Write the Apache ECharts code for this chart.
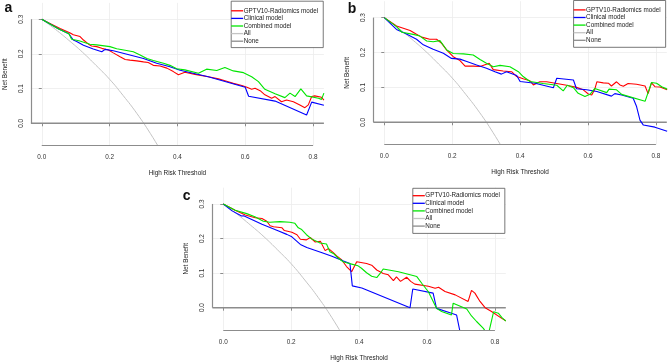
<!DOCTYPE html>
<html>
<head>
<meta charset="utf-8">
<script src="https://cdn.jsdelivr.net/npm/echarts@6/dist/echarts.min.js"></script>
<style>
  html, body { margin: 0; padding: 0; background: #fff; }
  #chart { width: 669px; height: 363px; }
</style>
</head>
<body>
<div id="chart"></div>
<script>
// tick labels
const xTicks = [0, 0.2, 0.4, 0.6, 0.8];
const yTicks = [0, 0.1, 0.2, 0.3];
const seriesNames = ['GPTV10-Radiomics model', 'Clinical model', 'Combined model', 'All', 'None'];

// treat-all curve (same in every panel) and treat-none line
const allCurve = [[0, 0.300], [0.04, 0.271], [0.08, 0.239], [0.12, 0.205], [0.16, 0.167], [0.20, 0.127],
    [0.24, 0.080], [0.28, 0.029], [0.32, -0.029], [0.36, -0.094]];
const noneLine = [[-0.032, 0], [0.832, 0]];

// panel a
const aRadiomics = [[0, 0.300], [0.030, 0.285], [0.054, 0.273], [0.084, 0.260], [0.093, 0.255], [0.113, 0.250],
    [0.123, 0.240], [0.138, 0.228], [0.147, 0.223], [0.162, 0.221], [0.177, 0.216], [0.197, 0.211], [0.211, 0.203],
    [0.231, 0.192], [0.246, 0.184], [0.260, 0.182], [0.280, 0.180], [0.300, 0.177], [0.314, 0.175], [0.329, 0.167],
    [0.349, 0.165], [0.369, 0.159], [0.388, 0.149], [0.403, 0.140], [0.422, 0.147], [0.452, 0.141], [0.491, 0.134],
    [0.521, 0.128], [0.550, 0.120], [0.565, 0.115], [0.590, 0.109], [0.605, 0.104], [0.619, 0.098], [0.629, 0.101],
    [0.644, 0.094], [0.658, 0.082], [0.678, 0.072], [0.688, 0.077], [0.707, 0.062], [0.722, 0.067], [0.742, 0.062],
    [0.761, 0.053], [0.776, 0.045], [0.786, 0.053], [0.796, 0.077], [0.805, 0.079], [0.825, 0.075], [0.832, 0.067]];
const aClinical = [[0, 0.300], [0.050, 0.272], [0.080, 0.258], [0.093, 0.240], [0.103, 0.236], [0.123, 0.225],
    [0.152, 0.214], [0.177, 0.206], [0.187, 0.213], [0.211, 0.209], [0.260, 0.197], [0.300, 0.187], [0.339, 0.173],
    [0.378, 0.163], [0.408, 0.153], [0.491, 0.134], [0.600, 0.104], [0.610, 0.078], [0.688, 0.064], [0.781, 0.024],
    [0.796, 0.061], [0.832, 0.052]];
const aCombined = [[0, 0.300], [0.050, 0.272], [0.080, 0.258], [0.088, 0.242], [0.110, 0.238], [0.142, 0.228],
    [0.162, 0.226], [0.201, 0.221], [0.221, 0.215], [0.250, 0.210], [0.270, 0.206], [0.290, 0.197], [0.310, 0.187],
    [0.329, 0.181], [0.359, 0.173], [0.378, 0.167], [0.398, 0.157], [0.422, 0.154], [0.462, 0.144], [0.486, 0.156],
    [0.516, 0.152], [0.540, 0.161], [0.565, 0.151], [0.595, 0.146], [0.619, 0.134], [0.639, 0.120], [0.658, 0.098],
    [0.688, 0.085], [0.717, 0.074], [0.732, 0.087], [0.747, 0.077], [0.764, 0.099], [0.781, 0.079], [0.816, 0.072],
    [0.825, 0.069], [0.832, 0.087]];

// panel b
const bRadiomics = [[0, 0.300], [0.036, 0.276], [0.076, 0.263], [0.095, 0.252], [0.110, 0.244], [0.134, 0.238],
    [0.154, 0.238], [0.169, 0.226], [0.184, 0.207], [0.203, 0.188], [0.223, 0.177], [0.238, 0.161], [0.262, 0.161],
    [0.282, 0.160], [0.301, 0.166], [0.309, 0.169], [0.321, 0.151], [0.350, 0.147], [0.375, 0.145], [0.390, 0.131],
    [0.409, 0.125], [0.429, 0.119], [0.439, 0.107], [0.458, 0.116], [0.478, 0.116], [0.508, 0.111], [0.537, 0.106],
    [0.566, 0.100], [0.586, 0.093], [0.601, 0.081], [0.611, 0.078], [0.620, 0.095], [0.626, 0.116], [0.645, 0.113],
    [0.660, 0.112], [0.669, 0.104], [0.684, 0.116], [0.694, 0.107], [0.704, 0.103], [0.718, 0.111], [0.743, 0.109],
    [0.768, 0.104], [0.777, 0.082], [0.787, 0.113], [0.797, 0.102], [0.812, 0.101], [0.833, 0.093]];
const bClinical = [[0, 0.300], [0.036, 0.266], [0.061, 0.255], [0.095, 0.238], [0.115, 0.222], [0.144, 0.209],
    [0.174, 0.198], [0.198, 0.183], [0.223, 0.181], [0.243, 0.174], [0.272, 0.164], [0.301, 0.155], [0.326, 0.145],
    [0.345, 0.138], [0.360, 0.145], [0.390, 0.134], [0.400, 0.117], [0.444, 0.112], [0.498, 0.099], [0.508, 0.126],
    [0.557, 0.121], [0.566, 0.096], [0.596, 0.093], [0.626, 0.088], [0.669, 0.075], [0.679, 0.082], [0.699, 0.078],
    [0.733, 0.069], [0.743, 0.045], [0.753, 0.006], [0.763, -0.008], [0.797, -0.014], [0.833, -0.026]];
const bCombined = [[0, 0.300], [0.036, 0.274], [0.052, 0.258], [0.085, 0.252], [0.105, 0.247], [0.125, 0.233],
    [0.144, 0.231], [0.164, 0.234], [0.184, 0.207], [0.203, 0.197], [0.233, 0.196], [0.262, 0.193], [0.282, 0.180],
    [0.301, 0.169], [0.321, 0.159], [0.341, 0.163], [0.370, 0.159], [0.395, 0.145], [0.409, 0.131], [0.429, 0.117],
    [0.468, 0.111], [0.508, 0.106], [0.527, 0.090], [0.539, 0.106], [0.557, 0.099], [0.571, 0.083], [0.591, 0.074],
    [0.606, 0.080], [0.620, 0.097], [0.655, 0.085], [0.662, 0.095], [0.684, 0.093], [0.699, 0.080], [0.768, 0.060],
    [0.787, 0.114], [0.802, 0.112], [0.817, 0.102], [0.833, 0.095]];

// panel c
const cRadiomics = [[0, 0.300], [0.035, 0.282], [0.065, 0.268], [0.094, 0.260], [0.114, 0.258], [0.128, 0.250],
    [0.138, 0.237], [0.148, 0.234], [0.173, 0.231], [0.180, 0.223], [0.202, 0.218], [0.217, 0.211], [0.227, 0.198],
    [0.245, 0.196], [0.256, 0.203], [0.271, 0.190], [0.286, 0.192], [0.300, 0.165], [0.310, 0.171], [0.324, 0.159],
    [0.334, 0.150], [0.349, 0.138], [0.363, 0.119], [0.378, 0.104], [0.393, 0.133], [0.422, 0.128], [0.437, 0.123],
    [0.452, 0.109], [0.471, 0.099], [0.486, 0.095], [0.501, 0.078], [0.510, 0.089], [0.522, 0.076], [0.540, 0.088],
    [0.552, 0.076], [0.564, 0.068], [0.604, 0.062], [0.624, 0.056], [0.634, 0.059], [0.653, 0.047], [0.683, 0.037],
    [0.721, 0.018], [0.731, 0.050], [0.741, 0.042], [0.756, 0.018], [0.771, 0.000], [0.790, -0.011], [0.820, -0.031],
    [0.832, -0.038]];
const cClinical = [[0, 0.300], [0.026, 0.280], [0.054, 0.265], [0.060, 0.266], [0.114, 0.241], [0.163, 0.222],
    [0.187, 0.212], [0.202, 0.205], [0.217, 0.192], [0.227, 0.183], [0.246, 0.174], [0.261, 0.169], [0.291, 0.159],
    [0.320, 0.149], [0.354, 0.135], [0.373, 0.128], [0.380, 0.063], [0.408, 0.057], [0.550, 0.000], [0.558, 0.054],
    [0.618, 0.042], [0.628, -0.002], [0.672, -0.016], [0.687, -0.021], [0.697, -0.069]];
const cCombined = [[0, 0.300], [0.035, 0.282], [0.069, 0.272], [0.093, 0.263], [0.118, 0.250], [0.137, 0.247],
    [0.167, 0.249], [0.196, 0.247], [0.211, 0.244], [0.221, 0.231], [0.231, 0.226], [0.245, 0.211], [0.260, 0.199],
    [0.285, 0.187], [0.304, 0.184], [0.309, 0.186], [0.314, 0.162], [0.324, 0.157], [0.339, 0.143], [0.353, 0.133],
    [0.363, 0.130], [0.378, 0.126], [0.397, 0.121], [0.407, 0.114], [0.422, 0.101], [0.437, 0.091], [0.452, 0.087],
    [0.462, 0.099], [0.471, 0.112], [0.516, 0.104], [0.570, 0.090], [0.585, 0.070], [0.604, 0.046], [0.628, -0.002],
    [0.643, -0.011], [0.672, -0.021], [0.677, 0.013], [0.717, -0.004], [0.731, -0.024], [0.746, -0.040],
    [0.766, -0.060], [0.780, -0.080], [0.796, -0.012], [0.810, -0.016], [0.820, -0.028], [0.832, -0.039]];

const X_MIN = -0.032, X_MAX = 0.832, Y_MIN = -0.064, Y_MAX = 0.347;
const FONT = 'Liberation Sans, Arial, sans-serif';
const AXIS_GRAY = '#8c8c8c';
const lineColors = ['#ff0000', '#0000ff', '#00e600', '#c4c4c4', '#8c8c8c'];

const panels = [
    { label: 'a', grid: { left: 30.9, top: 2.9, width: 293, height: 142.6 }, legend: { left: 231.2, top: 1.2, pad: [5.8, 5, 2.6, 0] },
      lines: [aRadiomics, aClinical, aCombined], labelPos: [4.5, 8] },
    { label: 'b', grid: { left: 373.4, top: 1.2, width: 293.4, height: 143.4 }, legend: { left: 573.6, top: 0.5, pad: [5.6, 5, 3.2, 0] },
      lines: [bRadiomics, bClinical, bCombined], labelPos: [347.8, 9] },
    { label: 'c', grid: { left: 212.4, top: 187.7, width: 293.4, height: 142.1 }, legend: { left: 412.8, top: 188.3, pad: [3.6, 5, 3.5, 0] },
      lines: [cRadiomics, cClinical, cCombined], labelPos: [182.8, 196.5] }
];

let option = {
    animation: false,
    backgroundColor: '#fff',
    textStyle: { fontFamily: FONT },
    grid: [], xAxis: [], yAxis: [], legend: [], series: [], graphic: []
};

panels.forEach((p, i) => {
    option.grid.push(Object.assign({ containLabel: false }, p.grid));
    option.xAxis.push({
        type: 'value', gridIndex: i, min: X_MIN, max: X_MAX,
        name: 'High Risk Threshold', nameLocation: 'middle', nameGap: 25,
        nameTextStyle: { fontSize: 6.4, color: '#222', fontFamily: FONT },
        axisLine: { show: false },
        axisTick: { show: true, length: 3, customValues: xTicks, lineStyle: { color: AXIS_GRAY, width: 1 } },
        axisLabel: { customValues: xTicks, margin: 9, fontSize: 6.4, color: '#333', fontFamily: FONT,
            formatter: v => v.toFixed(1) },
        splitLine: { show: true, lineStyle: { color: '#ececec', width: 0.8 } }
    });
    option.yAxis.push({
        type: 'value', gridIndex: i, min: Y_MIN, max: Y_MAX,
        name: 'Net Benefit', nameLocation: 'middle', nameGap: 23,
        nameTextStyle: { fontSize: 6.4, color: '#222', fontFamily: FONT },
        axisLine: { show: false },
        axisTick: { show: true, length: 3, customValues: yTicks, lineStyle: { color: AXIS_GRAY, width: 1 } },
        axisLabel: { customValues: yTicks, margin: 7, rotate: 90, fontSize: 6.4, color: '#333', fontFamily: FONT,
            formatter: v => v.toFixed(1) },
        splitLine: { show: true, lineStyle: { color: '#ececec', width: 0.8 } }
    });
    option.legend.push({
        orient: 'vertical', left: p.legend.left, top: p.legend.top, z: 10,
        padding: p.legend.pad, itemGap: 0, itemWidth: 12, itemHeight: 1.3, icon: 'rect',
        backgroundColor: '#fff', borderColor: '#555', borderWidth: 0.8,
        textStyle: { fontSize: 6.3, color: '#222', fontFamily: FONT, lineHeight: 7.6, padding: [0, 0, 0, -4.5] },
        data: seriesNames, selectedMode: false
    });
    // model curves
    p.lines.forEach((d, k) => {
        option.series.push({
            name: seriesNames[k], type: 'line', xAxisIndex: i, yAxisIndex: i, data: d,
            showSymbol: false, symbol: 'none', z: 3,
            color: lineColors[k], lineStyle: { color: lineColors[k], width: 1.1 }
        });
    });
    option.series.push({
        name: 'All', type: 'line', xAxisIndex: i, yAxisIndex: i, data: allCurve, smooth: true,
        showSymbol: false, symbol: 'none', z: 2,
        color: lineColors[3], lineStyle: { color: lineColors[3], width: 1 }
    });
    // none line, plus the R-style axis lines that only span the ticks
    option.series.push({
        name: 'None', type: 'line', xAxisIndex: i, yAxisIndex: i, data: noneLine, clip: false,
        showSymbol: false, symbol: 'none', z: 2,
        color: lineColors[4], lineStyle: { color: lineColors[4], width: 1.5 },
        markLine: {
            silent: true, symbol: 'none', label: { show: false },
            lineStyle: { color: AXIS_GRAY, width: 1.2, type: 'solid' },
            data: [
                [{ coord: [xTicks[0], Y_MIN] }, { coord: [xTicks[xTicks.length - 1], Y_MIN] }],
                [{ coord: [X_MIN, yTicks[0]] }, { coord: [X_MIN, yTicks[yTicks.length - 1]] }]
            ]
        }
    });
    option.graphic.push({
        type: 'text', x: p.labelPos[0], y: p.labelPos[1],
        style: { text: p.label, font: 'bold 14px ' + FONT, fill: '#111', verticalAlign: 'middle' }
    });
});

let chart = echarts.init(document.getElementById('chart'), null, { renderer: 'canvas' });
chart.setOption(option);
window.addEventListener('resize', () => { chart.resize(); });
</script>
</body>
</html>
